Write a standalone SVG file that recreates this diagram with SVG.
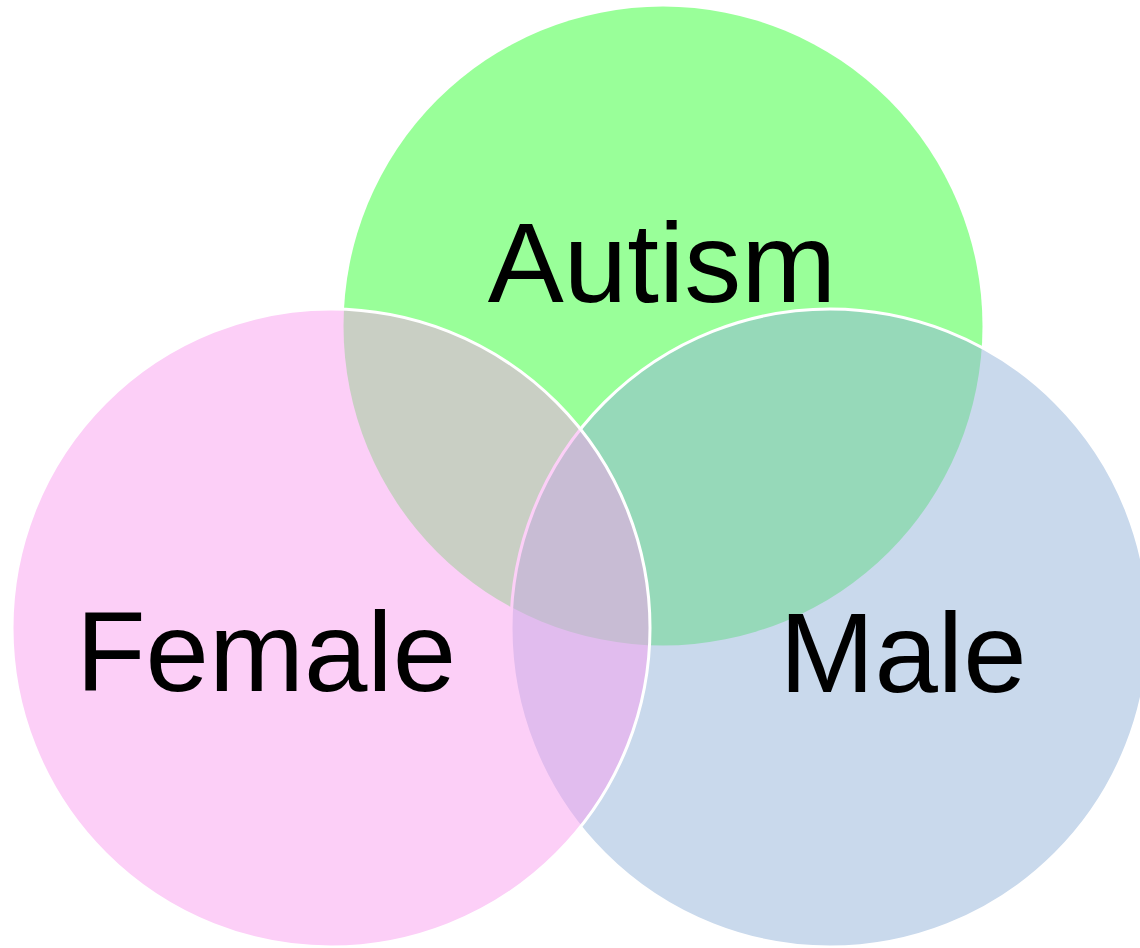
<svg xmlns="http://www.w3.org/2000/svg" width="1140" height="948" viewBox="0 0 1140 948">
<style>
.set{stroke:#ffffff;stroke-width:3;fill-opacity:0.5}
.lbl{font-family:"Liberation Sans",Arial,sans-serif;font-size:114px;fill:#000000;text-anchor:middle}
</style>
<rect width="1140" height="948" fill="#ffffff"/>
<g id="autism">
<circle cx="663" cy="326" r="319.5" fill="#99ff99"/>
</g>
<g id="male">
<circle class="set" cx="830" cy="628" r="319" fill="#93b3d9"/>
</g>
<g id="female">
<circle class="set" cx="331" cy="628" r="319" fill="#f99fef"/>
</g>
<g id="labels">
<text class="lbl" x="662" y="302" font-size="113">Autism</text>
<text class="lbl" x="266" y="691">Female</text>
<text class="lbl" x="903" y="692">Male</text>
</g>
<g id="connectors"/>
</svg>
